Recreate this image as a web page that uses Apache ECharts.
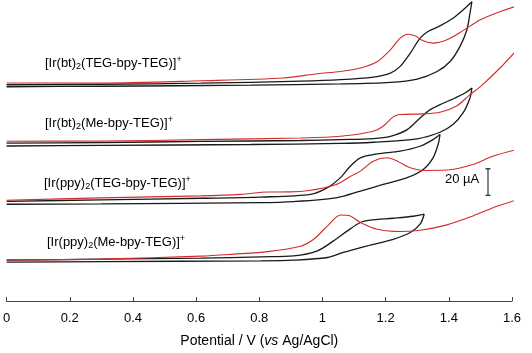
<!DOCTYPE html>
<html>
<head>
<meta charset="utf-8">
<script src="https://cdn.jsdelivr.net/npm/echarts@6/dist/echarts.min.js"></script>
<style>
  html, body { margin: 0; padding: 0; background: #fff; }
  #container { width: 532px; height: 353px; }
</style>
</head>
<body>
<div id="container"></div>
<script>
// potential (V vs Ag/AgCl), current (uA, traces stacked with offsets)
var xTicks = [0, 0.2, 0.4, 0.6, 0.8, 1, 1.2, 1.4, 1.6]

// [Ir(bt)2(TEG-bpy-TEG)]+
var bt1Fwd = [[0, 162.5], [0.300, 162.9], [0.615, 163.7], [0.931, 165.2], [1.057, 166.3], [1.161, 168.3], [1.215, 171.3], [1.246, 176.3], [1.278, 186.3], [1.309, 197.5], [1.334, 202.5], [1.372, 206.7], [1.413, 212.5], [1.445, 218.7], [1.473, 224.9]]
var bt1Rev = [[1.473, 224.9], [1.467, 216.3], [1.457, 203.7], [1.435, 191.2], [1.404, 180.0], [1.363, 172.5], [1.300, 166.8], [1.215, 164.3], [1.057, 163.1], [0.773, 162.2], [0.300, 161.4], [0, 161.0]]
var bt1Dpv = [[0, 163.8], [0.300, 163.8], [0.615, 165.5], [0.877, 167.6], [0.984, 170.8], [1.057, 172.5], [1.120, 175.1], [1.174, 180.0], [1.215, 188.8], [1.246, 197.5], [1.271, 200.5], [1.293, 199.3], [1.319, 195.5], [1.350, 193.8], [1.394, 196.3], [1.445, 203.2], [1.498, 211.2], [1.562, 217.5], [1.625, 222.5]]

// [Ir(bt)2(Me-bpy-TEG)]+
var bt2Fwd = [[0, 118.7], [0.300, 119.1], [0.615, 119.9], [0.931, 120.6], [1.057, 121.3], [1.161, 122.1], [1.215, 123.8], [1.268, 128.8], [1.309, 137.6], [1.341, 143.8], [1.372, 147.6], [1.413, 151.8], [1.451, 156.3], [1.473, 160.1]]
var bt2Rev = [[1.473, 160.1], [1.467, 152.6], [1.445, 141.3], [1.413, 132.6], [1.372, 126.8], [1.300, 121.9], [1.161, 119.3], [1.057, 118.4], [0.773, 117.6], [0.300, 116.9], [0, 116.5]]
var bt2Dpv = [[0, 120.1], [0.300, 120.2], [0.615, 121.3], [0.931, 122.5], [1.057, 123.8], [1.161, 127.6], [1.192, 131.3], [1.224, 138.4], [1.246, 140.1], [1.319, 140.6], [1.372, 141.8], [1.426, 146.8], [1.467, 155.1], [1.498, 160.7], [1.562, 175.1], [1.625, 191.2]]

// [Ir(ppy)2(TEG-bpy-TEG)]+
var ppy1Fwd = [[0, 74.9], [0.300, 76.0], [0.615, 77.2], [0.804, 78.1], [0.962, 80.1], [1.016, 85.2], [1.057, 92.7], [1.088, 101.3], [1.120, 107.6], [1.174, 110.6], [1.246, 112.6], [1.309, 116.3], [1.350, 121.3], [1.372, 125.1]]
var ppy1Rev = [[1.372, 125.1], [1.366, 117.6], [1.350, 107.6], [1.319, 98.9], [1.268, 92.7], [1.192, 87.6], [1.120, 82.6], [1.047, 77.7], [0.909, 74.7], [0.804, 73.9], [0.300, 73.0], [0, 72.7]]
var ppy1Dpv = [[0, 75.7], [0.300, 77.5], [0.615, 79.0], [0.741, 80.1], [0.826, 81.9], [0.890, 82.0], [0.953, 82.8], [1.041, 87.3], [1.088, 93.6], [1.120, 97.6], [1.161, 105.1], [1.205, 107.6], [1.237, 105.1], [1.278, 100.1], [1.319, 98.1], [1.394, 98.4], [1.476, 102.6], [1.539, 108.8], [1.625, 114.4]]

// [Ir(ppy)2(Me-bpy-TEG)]+
var ppy2Fwd = [[0, 30.7], [0.300, 31.5], [0.615, 32.2], [0.804, 33.2], [0.909, 33.9], [0.984, 37.7], [1.035, 45.2], [1.079, 52.7], [1.120, 59.0], [1.151, 60.7], [1.224, 62.2], [1.287, 63.7], [1.322, 65.2]]
var ppy2Rev = [[1.322, 65.2], [1.309, 57.7], [1.278, 51.5], [1.224, 46.4], [1.142, 41.4], [1.066, 36.5], [1.016, 32.7], [0.909, 30.7], [0.804, 30.2], [0.300, 29.6], [0, 29.2]]
var ppy2Dpv = [[0, 30.9], [0.300, 31.5], [0.615, 33.7], [0.719, 35.2], [0.826, 37.1], [0.931, 41.2], [0.972, 46.4], [1.016, 56.4], [1.057, 64.6], [1.088, 63.9], [1.120, 59.0], [1.174, 53.9], [1.246, 52.2], [1.309, 53.2], [1.394, 57.2], [1.476, 63.9], [1.552, 71.2], [1.621, 76.4]]

// 20 uA scale bar
var scaleBar = [[1.524, 79.4], [1.524, 99.4]]

var labels = [
  '[Ir(bt){sub|2}(TEG-bpy-TEG)]{sup|+}',
  '[Ir(bt){sub|2}(Me-bpy-TEG)]{sup|+}',
  '[Ir(ppy){sub|2}(TEG-bpy-TEG)]{sup|+}',
  '[Ir(ppy){sub|2}(Me-bpy-TEG)]{sup|+}'
]
var labelPos = [[45, 55], [45, 115], [44, 175], [47, 234]]

var FONT = 'Liberation Sans'
var cvList = [bt1Fwd, bt1Rev, bt2Fwd, bt2Rev, ppy1Fwd, ppy1Rev, ppy2Fwd, ppy2Rev]
var dpvList = [bt1Dpv, bt2Dpv, ppy1Dpv, ppy2Dpv]

var chart = echarts.init(document.getElementById('container'))

var series = []
cvList.forEach(function(d) {
  series.push({
    type: 'line', data: d, symbol: 'none', smooth: 0.3, clip: false,
    lineStyle: { color: '#1a1a1a', width: 1.3 }, silent: true
  })
})
dpvList.forEach(function(d) {
  series.push({
    type: 'line', data: d, symbol: 'none', smooth: 0.3, clip: false,
    lineStyle: { color: '#d42a2a', width: 1.1 }, silent: true
  })
})
series.push({
  type: 'line', data: scaleBar,
  symbol: 'rect', symbolSize: [5, 1.4], clip: false,
  itemStyle: { color: '#2b3a48' },
  lineStyle: { color: '#2b3a48', width: 1.2 }
})

chart.setOption({
  animation: false,
  backgroundColor: '#fff',
  grid: { left: 5, right: 20, top: 0, bottom: 51 },
  xAxis: {
    type: 'value', min: 0, max: 1.6, interval: 0.2,
    axisLine: { lineStyle: { color: '#444', width: 1 } },
    axisTick: { inside: true, length: 4, lineStyle: { color: '#444' } },
    splitLine: { show: false },
    axisLabel: {
      color: '#000', fontSize: 13, fontFamily: FONT, margin: 11,
      formatter: function(v) { return xTicks.indexOf(Math.round(v * 10) / 10) >= 0 ? String(Math.round(v * 10) / 10) : '' }
    },
    name: 'Potential / V ({i|vs} Ag/AgCl)',
    nameLocation: 'middle', nameGap: 33,
    nameTextStyle: {
      color: '#000', fontSize: 14, fontFamily: FONT,
      rich: { i: { fontStyle: 'italic', fontSize: 14, fontFamily: FONT, color: '#000' } }
    }
  },
  yAxis: { type: 'value', min: 0, max: 226.2, show: false },
  graphic: labels.map(function(t, i) {
    return {
      type: 'text', left: labelPos[i][0], top: labelPos[i][1], silent: true,
      style: {
        text: t, fill: '#000', fontSize: 13, fontFamily: FONT,
        rich: {
          sub: { fontSize: 9, fontFamily: FONT, verticalAlign: 'bottom', padding: [7, 0, 0, 0] },
          sup: { fontSize: 9, fontFamily: FONT, verticalAlign: 'top', padding: [0, 0, 7, 0] }
        }
      }
    }
  }).concat([{
    type: 'text', left: 445, top: 173, silent: true,
    style: { text: '20 \u00b5A', fill: '#000', fontSize: 13, fontFamily: FONT }
  }]),
  series: series
})
</script>
</body>
</html>
